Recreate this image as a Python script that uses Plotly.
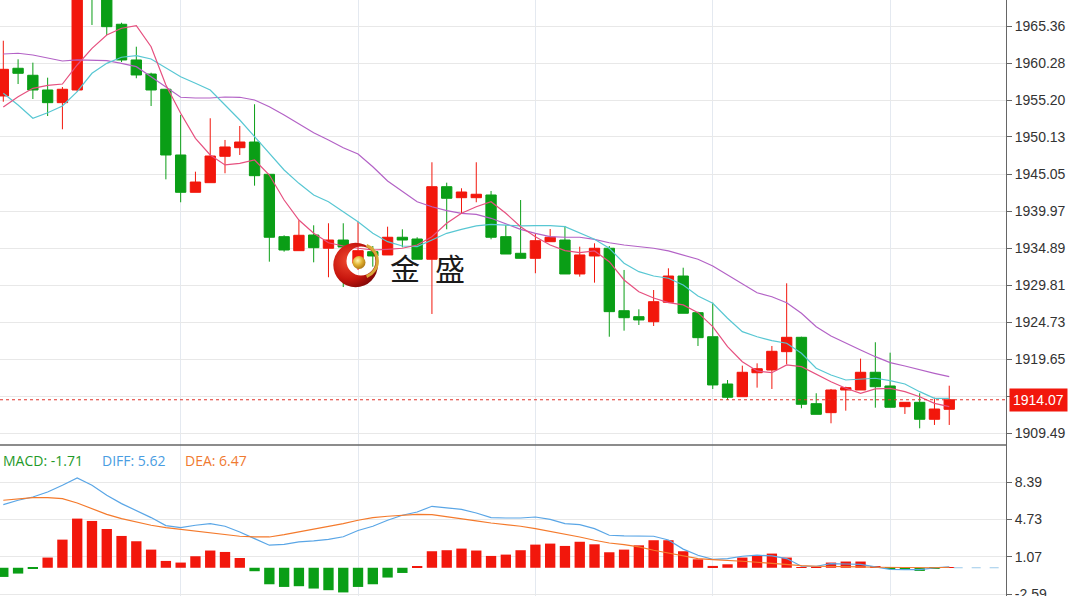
import base64
import plotly.graph_objects as go

# ---------------- data ----------------
idx = list(range(65))

open_ = [1955.76, 1959.56, 1958.60, 1956.58, 1954.84, 1956.58, 1973.80, 1970.20, 1965.60, 1960.70,
         1958.77, 1956.68, 1947.66, 1942.54, 1943.86, 1947.48, 1948.66, 1949.44, 1945.01, 1936.45,
         1934.53, 1936.68, 1934.86, 1935.99, 1932.80, 1934.39, 1933.94, 1936.37, 1936.13, 1933.35,
         1943.31, 1941.80, 1941.80, 1942.17, 1936.45, 1934.17, 1933.48, 1935.76, 1935.99, 1931.33,
         1933.80, 1934.86, 1926.29, 1925.47, 1924.78, 1927.45, 1931.05, 1926.02, 1922.72, 1916.23,
         1914.49, 1917.78, 1918.15, 1920.67, 1922.64, 1913.53, 1912.30, 1915.41, 1915.41, 1917.84,
         1915.96, 1913.12, 1913.72, 1911.39, 1912.76]
high = [1963.34, 1960.79, 1960.33, 1958.27, 1956.99, 1973.50, 1975.10, 1971.00, 1965.81, 1962.52,
        1958.95, 1956.68, 1953.15, 1945.37, 1952.70, 1949.72, 1951.64, 1954.62, 1945.01, 1936.64,
        1938.70, 1938.01, 1938.29, 1938.29, 1938.51, 1935.17, 1937.82, 1937.46, 1936.37, 1946.66,
        1943.86, 1943.09, 1946.66, 1942.72, 1938.05, 1941.48, 1936.91, 1937.50, 1937.92, 1935.08,
        1935.54, 1935.17, 1931.88, 1926.48, 1929.13, 1932.11, 1932.19, 1926.16, 1927.39, 1916.78,
        1918.75, 1919.07, 1921.45, 1930.05, 1922.72, 1914.96, 1915.55, 1915.86, 1919.71, 1921.96,
        1920.53, 1913.72, 1914.96, 1914.35, 1916.00]
low = [1954.97, 1957.40, 1955.34, 1953.01, 1951.19, 1956.35, 1965.50, 1964.13, 1960.42, 1958.19,
       1954.38, 1944.32, 1941.17, 1942.54, 1943.86, 1945.15, 1947.66, 1943.45, 1933.02, 1934.39,
       1934.53, 1932.93, 1930.88, 1929.54, 1931.88, 1932.33, 1933.94, 1934.99, 1933.35, 1925.84,
       1937.46, 1939.66, 1941.17, 1936.09, 1934.07, 1933.48, 1931.43, 1935.76, 1931.33, 1930.96,
       1930.14, 1922.72, 1923.55, 1924.33, 1924.19, 1927.45, 1925.94, 1921.45, 1915.55, 1914.04,
       1914.49, 1915.73, 1915.55, 1918.94, 1912.90, 1912.07, 1910.84, 1912.57, 1915.41, 1912.98,
       1913.04, 1912.12, 1910.15, 1910.61, 1910.61]
close = [1959.42, 1958.87, 1956.58, 1954.84, 1956.68, 1972.80, 1970.40, 1965.27, 1960.70, 1958.64,
         1956.58, 1947.66, 1942.54, 1943.95, 1947.52, 1948.76, 1949.44, 1944.82, 1936.37, 1934.62,
         1936.64, 1934.94, 1935.99, 1935.03, 1934.53, 1933.80, 1936.37, 1935.99, 1933.35, 1943.31,
         1941.72, 1942.58, 1942.27, 1936.37, 1934.07, 1933.48, 1935.90, 1936.37, 1931.33, 1933.94,
         1934.86, 1926.16, 1925.33, 1925.02, 1927.53, 1931.05, 1925.94, 1922.59, 1916.10, 1914.41,
         1917.84, 1918.33, 1920.72, 1922.64, 1913.45, 1912.07, 1915.41, 1915.73, 1917.84, 1915.86,
         1913.04, 1913.72, 1911.39, 1912.80, 1914.07]

ma5 = [1954.25, 1955.66, 1956.81, 1957.22, 1957.40, 1960.01, 1962.30, 1964.13, 1965.05, 1965.40,
       1962.52, 1957.27, 1953.38, 1949.95, 1947.66, 1946.29, 1946.52, 1946.97, 1944.91, 1941.48,
       1938.74, 1936.91, 1935.62, 1935.17, 1934.86, 1934.62, 1934.72, 1934.86, 1935.31, 1936.45,
       1938.29, 1939.66, 1940.56, 1941.25, 1939.66, 1937.82, 1936.45, 1935.31, 1934.53, 1934.25,
       1934.49, 1933.02, 1930.51, 1928.90, 1928.04, 1927.39, 1927.08, 1926.02, 1924.10, 1921.35,
       1919.29, 1918.02, 1917.78, 1918.84, 1918.61, 1917.57, 1916.55, 1915.64, 1914.96, 1915.55,
       1915.64, 1915.18, 1914.49, 1913.58, 1913.12]
ma10 = [1956.13, 1954.52, 1952.70, 1953.46, 1954.38, 1956.35, 1958.87, 1960.24, 1961.07, 1961.29,
        1960.83, 1959.56, 1958.40, 1957.50, 1956.58, 1954.52, 1952.46, 1950.17, 1947.89, 1945.60,
        1943.77, 1942.17, 1941.25, 1939.88, 1938.51, 1936.91, 1935.76, 1935.17, 1935.08, 1936.00,
        1936.91, 1937.46, 1937.92, 1938.15, 1938.05, 1937.92, 1937.96, 1937.96, 1937.82, 1936.91,
        1936.09, 1934.86, 1932.80, 1931.65, 1931.05, 1930.74, 1929.82, 1928.31, 1927.31, 1925.25,
        1923.41, 1922.72, 1922.18, 1921.82, 1920.45, 1918.39, 1917.47, 1916.78, 1916.88, 1917.02,
        1916.69, 1916.23, 1915.18, 1914.27, 1914.27]
ma20 = [1961.52, 1961.62, 1961.38, 1960.93, 1960.56, 1960.70, 1960.70, 1960.60, 1960.24, 1959.78,
        1958.40, 1956.95, 1955.58, 1955.48, 1955.48, 1955.62, 1955.58, 1955.21, 1954.29, 1953.15,
        1951.91, 1950.72, 1949.72, 1948.66, 1947.80, 1946.05, 1944.09, 1942.62, 1941.25, 1940.56,
        1940.02, 1939.66, 1939.52, 1938.97, 1938.19, 1937.46, 1936.91, 1936.45, 1936.37, 1936.37,
        1936.09, 1935.62, 1935.31, 1935.08, 1934.86, 1934.49, 1933.94, 1933.35, 1932.43, 1931.19,
        1929.96, 1928.76, 1928.21, 1927.39, 1925.93, 1924.10, 1922.82, 1921.82, 1920.90, 1919.98,
        1919.16, 1918.70, 1918.15, 1917.70, 1917.24]

diff = [6.19, 6.62, 6.94, 7.43, 8.09, 8.80, 8.09, 7.11, 6.29, 5.64,
        4.92, 4.14, 3.94, 4.17, 4.33, 4.07, 3.51, 2.86, 2.21, 2.30,
        2.53, 2.63, 2.79, 3.04, 3.65, 4.07, 4.66, 5.15, 5.47, 6.03,
        5.90, 5.73, 5.37, 4.92, 4.88, 4.88, 4.98, 4.75, 4.33, 4.23,
        3.84, 3.19, 3.12, 3.09, 3.09, 2.72, 1.83, 1.23, 0.83, 0.90,
        1.13, 1.23, 1.16, 0.90, 0.15, 0.15, 0.41, 0.37, 0.34, 0.08,
        -0.15, -0.18, -0.18, -0.02, 0.08]
dea = [6.62, 6.78, 6.88, 6.88, 6.78, 6.35, 5.80, 5.24, 4.82, 4.49,
       4.17, 3.94, 3.77, 3.61, 3.41, 3.25, 3.09, 3.02, 3.02, 3.25,
       3.51, 3.77, 4.07, 4.33, 4.66, 4.92, 5.05, 5.15, 5.24, 5.21,
       4.98, 4.82, 4.59, 4.39, 4.26, 4.07, 3.84, 3.58, 3.28, 3.02,
       2.70, 2.43, 2.27, 2.04, 1.72, 1.47, 1.15, 0.90, 0.80, 0.74,
       0.64, 0.54, 0.41, 0.31, 0.20, 0.15, 0.15, 0.12, 0.08, 0.05,
       0.02, 0.00, -0.02, 0.00, 0.05]
macd = [-0.90, -0.57, -0.08, 1.00, 2.76, 4.82, 4.59, 3.80, 3.12, 2.60,
        1.78, 0.67, 0.51, 1.13, 1.69, 1.55, 0.96, -0.34, -1.62, -1.88,
        -1.81, -2.04, -2.20, -2.42, -1.88, -1.62, -0.96, -0.51, 0.15, 1.62,
        1.72, 1.88, 1.69, 1.16, 1.29, 1.72, 2.27, 2.37, 2.14, 2.55,
        2.30, 1.52, 1.78, 2.20, 2.70, 2.70, 1.62, 0.83, 0.18, 0.34,
        1.00, 1.16, 1.39, 1.00, 0.05, 0.03, 0.51, 0.61, 0.61, 0.15,
        -0.05, -0.05, -0.31, -0.10, 0.02]

price_ticks = [1909.49, 1914.57, 1919.65, 1924.73, 1929.81, 1934.89, 1939.97,
               1945.05, 1950.13, 1955.20, 1960.28, 1965.36]
price_labels = ["1909.49", "", "1919.65", "1924.73", "1929.81", "1934.89", "1939.97",
                "1945.05", "1950.13", "1955.20", "1960.28", "1965.36"]
macd_ticks = [-2.59, 1.07, 4.73, 8.39]
macd_labels = ["-2.59", "1.07", "4.73", "8.39"]
x_grid = [12, 24, 36, 48, 60]
last_price = 1914.07
label_macd, label_diff, label_dea = "MACD: -1.71", "DIFF: 5.62", "DEA: 6.47"
brand = "金\u2002盛"

# ---------------- styling ----------------
RED = "#f2170c"
GREEN = "#0a9e16"
W, H = 1070, 596
PLOT_W = 1006
SPLIT = 445  # pixel row between panes
xr = [-0.223, 67.84]
main_dom = [(H - SPLIT) / H, 1]
sub_dom = [0, (H - SPLIT) / H]

fig = go.Figure()
fig.add_trace(go.Candlestick(
    x=idx, open=open_, high=high, low=low, close=close,
    increasing=dict(line=dict(color=RED, width=1), fillcolor=RED),
    decreasing=dict(line=dict(color=GREEN, width=1), fillcolor=GREEN),
    whiskerwidth=0, xaxis="x", yaxis="y", showlegend=False, hoverinfo="skip"))
for vals, col in [(ma20, "#b362c6"), (ma10, "#58c7d3"), (ma5, "#e6507f")]:
    fig.add_trace(go.Scatter(x=idx, y=vals, mode="lines", line=dict(color=col, width=1.2),
                             xaxis="x", yaxis="y", showlegend=False, hoverinfo="skip"))

fig.add_trace(go.Bar(x=idx, y=macd, width=0.7,
                     marker=dict(color=[RED if v >= 0 else GREEN for v in macd], line=dict(width=0)),
                     xaxis="x2", yaxis="y2", showlegend=False, hoverinfo="skip"))
fig.add_trace(go.Scatter(x=idx, y=diff, mode="lines", line=dict(color="#5aa6e6", width=1.2),
                         xaxis="x2", yaxis="y2", showlegend=False, hoverinfo="skip"))
fig.add_trace(go.Scatter(x=idx, y=dea, mode="lines", line=dict(color="#f47a2c", width=1.2),
                         xaxis="x2", yaxis="y2", showlegend=False, hoverinfo="skip"))

axis_font = dict(family="Liberation Sans, Arial, sans-serif", size=14, color="#333333")
common_x = dict(range=xr, tickvals=x_grid, showticklabels=False, ticks="", showgrid=True,
                gridcolor="#e4e9f0", gridwidth=1, zeroline=False, showline=False, fixedrange=True)
fig.update_layout(
    width=W, height=H, margin=dict(l=0, r=W - PLOT_W, t=0, b=0, autoexpand=False),
    paper_bgcolor="white", plot_bgcolor="white",
    boxgap=0.3, boxgroupgap=0, barmode="overlay",
    xaxis=dict(domain=[0, 1], anchor="y", rangeslider=dict(visible=False), **common_x),
    xaxis2=dict(domain=[0, 1], anchor="y2", matches="x", **common_x),
    yaxis=dict(domain=main_dom, side="right", range=[1907.86, 1968.93], tickvals=price_ticks,
               ticktext=price_labels, ticks="outside", ticklen=5, tickcolor="#666666",
               showgrid=True, gridcolor="#e8e8e8", zeroline=False, showline=True,
               linecolor="#666666", linewidth=1, tickfont=axis_font, anchor="x",
               ticklabeloverflow="allow"),
    yaxis2=dict(domain=sub_dom, side="right", range=[-2.77, 12.04], tickvals=macd_ticks,
                ticktext=macd_labels, ticks="outside", ticklen=5, tickcolor="#666666",
                showgrid=True, gridcolor="#e8e8e8", zeroline=False, showline=True,
                linecolor="#666666", linewidth=1, tickfont=axis_font, anchor="x2",
                ticklabeloverflow="allow"),
)

# pane separator
fig.add_shape(type="line", xref="paper", yref="paper", x0=0, x1=1, y0=main_dom[0], y1=main_dom[0],
              line=dict(color="#666666", width=1.5))
# last price dotted line and label
fig.add_shape(type="line", xref="paper", yref="y", x0=0, x1=1, y0=last_price, y1=last_price,
              line=dict(color="#e0332a", width=1, dash="dot"))
fig.add_annotation(xref="paper", yref="y", x=1, y=last_price, xanchor="left", yanchor="middle",
                   xshift=3, text=f"{last_price:.2f}", showarrow=False, bgcolor="#f2170c",
                   font=dict(family="Liberation Sans, Arial, sans-serif", size=14, color="white"),
                   borderpad=3)
# MACD zero extension
fig.add_shape(type="line", xref="x2", yref="y2", x0=idx[-1] + 0.3, x1=xr[1], y0=0, y1=0,
              line=dict(color="#9ccaea", width=1, dash="dash"))

# MACD legend text
lab_font = "Open Sans, Noto Sans, sans-serif"
ypix = 460
for txt, xpix, anchor, col in [(label_macd, 85, "right", "#1f9a2a"),
                               (label_diff, 100, "left", "#4a9de2"),
                               (label_dea, 183, "left", "#f07a30")]:
    fig.add_annotation(xref="paper", yref="paper", x=xpix / PLOT_W, y=1 - ypix / H,
                       xanchor=anchor, yanchor="middle", text=txt, showarrow=False,
                       font=dict(family=lab_font, size=14, color=col))

# watermark logo
svg = """<svg xmlns='http://www.w3.org/2000/svg' width='50' height='50' viewBox='0 0 50 50'>
<defs>
<radialGradient id='r' cx='0.35' cy='0.4' r='0.7'><stop offset='0' stop-color='#f04a30'/><stop offset='0.6' stop-color='#c8160e'/><stop offset='1' stop-color='#7a0606'/></radialGradient>
<radialGradient id='g' cx='0.4' cy='0.35' r='0.7'><stop offset='0' stop-color='#fff6b0'/><stop offset='0.5' stop-color='#e0b030'/><stop offset='1' stop-color='#a87010'/></radialGradient>
</defs>
<path fill='url(#r)' fill-rule='evenodd' d='M3.3,25 a22.3,22.3 0 1,0 44.6,0 a22.3,22.3 0 1,0 -44.6,0 Z M16.5,21 a14.5,14.5 0 1,0 29,0 a14.5,14.5 0 1,0 -29,0 Z'/>
<path d='M36.6,5.5 A16.5,16.5 0 0,1 36.6,36.5' fill='none' stroke='#d8a838' stroke-width='3'/>
<circle cx='29' cy='22.5' r='6.5' fill='url(#g)'/>
</svg>"""
src = "data:image/svg+xml;base64," + base64.b64encode(svg.encode()).decode()
fig.add_layout_image(source=src, xref="paper", yref="paper", x=330 / PLOT_W, y=1 - 240 / H,
                     sizex=50 / PLOT_W, sizey=50 / H, xanchor="left", yanchor="top",
                     sizing="stretch", layer="above")
fig.add_annotation(xref="paper", yref="paper", x=427 / PLOT_W, y=1 - 267 / H, text=brand,
                   showarrow=False, xanchor="center", yanchor="middle",
                   font=dict(family="Noto Sans CJK SC", size=30, color="#1a1a1a"))

fig.write_html("out.html", config={"displayModeBar": False},
               post_script="document.body.style.margin='0';document.body.style.overflow='hidden';")
